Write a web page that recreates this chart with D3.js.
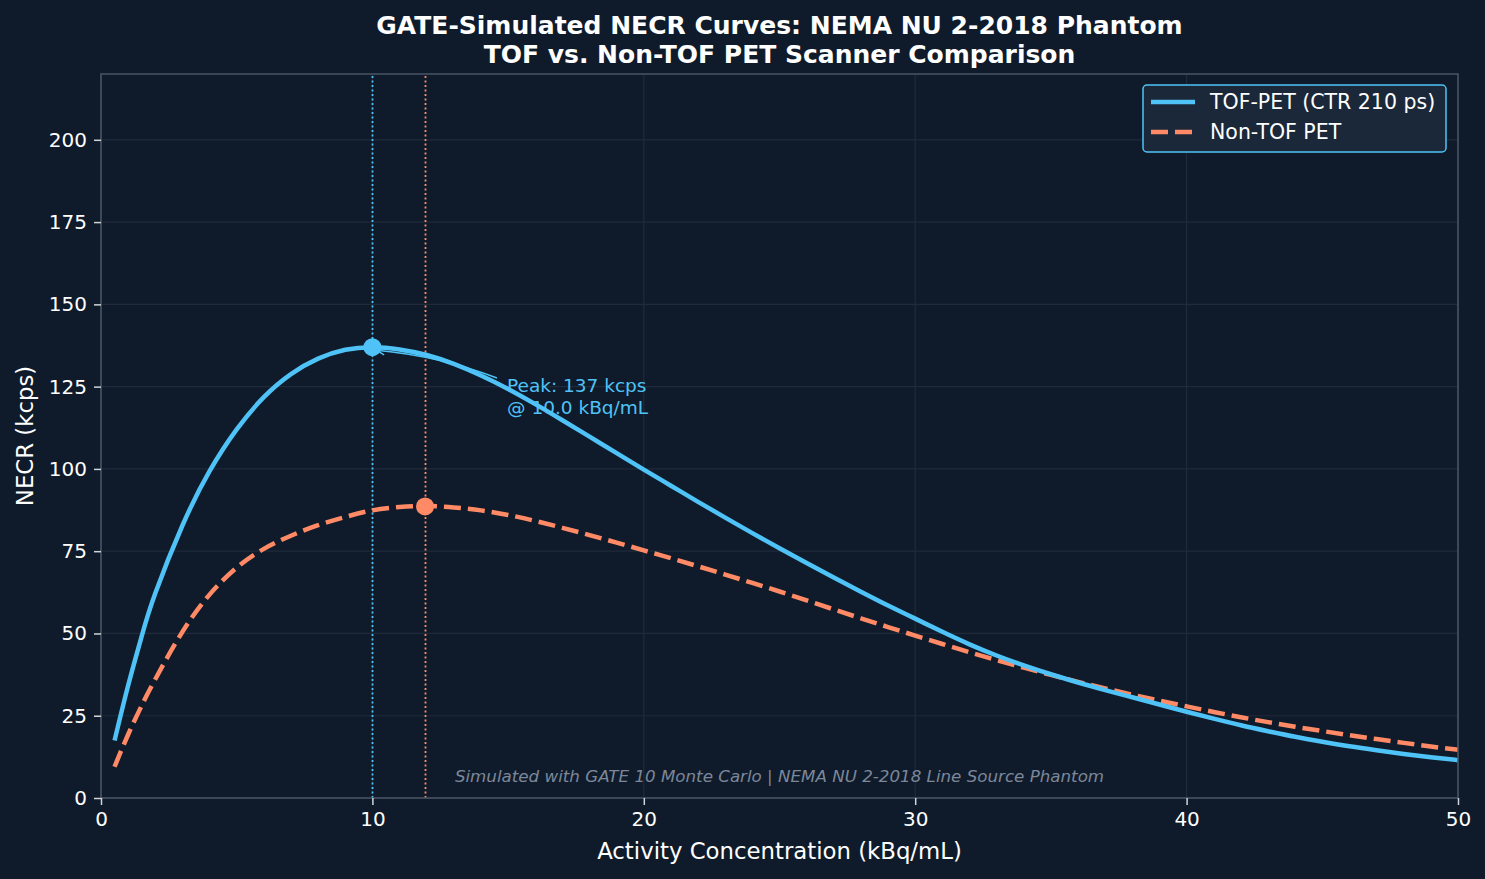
<!DOCTYPE html>
<html>
<head>
<meta charset="utf-8">
<script src="https://cdn.jsdelivr.net/npm/d3@7"></script>
<style>
  html, body { margin: 0; padding: 0; background: #0f1b2a; }
  svg { display: block; font-family: "DejaVu Sans", sans-serif; }
</style>
</head>
<body>
<div id="chart"></div>
<script>
// Activity concentration (kBq/mL) sample points
const activity = [0.5, 1, 1.5, 2, 3, 4, 5, 6, 7, 8, 9, 10, 11, 12, 13, 14, 15, 16, 17, 18, 19, 20,
  21, 22, 23, 24, 25, 26, 27, 28, 29, 30, 31, 32, 33, 34, 35, 36, 37, 38, 39, 40,
  41, 42, 43, 44, 45, 46, 47, 48, 49, 50];

// NECR (kcps)
const necrTof = [17.5, 34.2, 49.2, 62.2, 82.8, 99.3, 112, 121.8, 128.8, 133.5, 136.2, 137, 136.3,
  134.6, 131.9, 128.4, 124.3, 119.7, 114.8, 109.8, 104.8, 99.8, 94.9, 90.0, 85.2, 80.5, 75.9, 71.4,
  67.0, 62.7, 58.5, 54.5, 50.5, 46.7, 43.3, 40.3, 37.6, 35.1, 32.8, 30.6, 28.4, 26.2, 24.1, 22.1,
  20.3, 18.6, 17.1, 15.7, 14.5, 13.4, 12.4, 11.5];
const necrNonTof = [9.5, 19.3, 28.1, 36.1, 50.5, 61.8, 70.0, 75.7, 79.7, 82.9, 85.4, 87.4, 88.4,
  88.7, 88.3, 87.4, 86.0, 84.2, 82.1, 79.9, 77.6, 75.25, 72.85, 70.4, 67.9, 65.35, 62.75, 60.05,
  57.3, 54.6, 51.95, 49.35, 46.8, 44.3, 41.9, 39.6, 37.4, 35.3, 33.3, 31.4, 29.6, 27.85, 26.15,
  24.55, 23.05, 21.65, 20.35, 19.1, 17.9, 16.75, 15.65, 14.65];

const xTicks = [0, 10, 20, 30, 40, 50];
const yTicks = [0, 25, 50, 75, 100, 125, 150, 175, 200];

const peakTof = { x: 10.0, y: 137 };
const peakNonTof = { x: 11.94, y: 88.6 };

const W = 1485, H = 879;
const margin = { top: 74, right: 27, bottom: 81, left: 101 };

const colTof = '#4fc3f7';
const colNon = '#ff8a65';

const svg = d3.select('#chart').append('svg')
  .attr('width', W)
  .attr('height', H);

svg.append('rect').attr('width', W).attr('height', H).attr('fill', '#0f1b2a');

const x = d3.scaleLinear().domain([0, 50]).range([margin.left, W - margin.right]);
const y = d3.scaleLinear().domain([0, 220]).range([H - margin.bottom, margin.top]);

// Grid
const grid = svg.append('g');
grid.selectAll('.gx').data(xTicks).join('line')
  .attr('x1', d => x(d)).attr('x2', d => x(d))
  .attr('y1', y(0)).attr('y2', y(220))
  .attr('stroke', '#1f2b3b').attr('stroke-width', 1.2);
grid.selectAll('.gy').data(yTicks).join('line')
  .attr('x1', x(0)).attr('x2', x(50))
  .attr('y1', d => y(d)).attr('y2', d => y(d))
  .attr('stroke', '#1f2b3b').attr('stroke-width', 1.2);

// Peak guide lines
[[peakTof, colTof], [peakNonTof, colNon]].forEach(([p, c]) => {
  svg.append('line')
    .attr('x1', Math.round(x(p.x)) + 0.5).attr('x2', Math.round(x(p.x)) + 0.5)
    .attr('y1', y(0)).attr('y2', y(220))
    .attr('stroke', c).attr('stroke-width', 1.8)
    .attr('stroke-dasharray', '2,2.5');
});

// Curves
const line = d3.line().curve(d3.curveNatural);
const tofPts = activity.map((a, i) => [x(a), y(necrTof[i])]);
const nonPts = activity.map((a, i) => [x(a), y(necrNonTof[i])]);

svg.append('path').attr('d', line(nonPts))
  .attr('fill', 'none').attr('stroke', colNon).attr('stroke-width', 4.5)
  .attr('stroke-dasharray', '17,7');
svg.append('path').attr('d', line(tofPts))
  .attr('fill', 'none').attr('stroke', colTof).attr('stroke-width', 4.5)
  .attr('stroke-linejoin', 'round');

// Peak markers
svg.append('circle').attr('cx', x(peakTof.x)).attr('cy', y(peakTof.y)).attr('r', 9).attr('fill', colTof);
svg.append('circle').attr('cx', x(peakNonTof.x)).attr('cy', y(peakNonTof.y)).attr('r', 9).attr('fill', colNon);

// Annotation arrow + text
const tx = 507, ty = 392;
const ax0 = tx - 10, ay0 = ty - 14;
const ax1 = x(peakTof.x) + 4, ay1 = y(peakTof.y) + 3;
const cx = (ax0 + ax1) / 2 + 4, cy = (ay0 + ay1) / 2 - 8;
svg.append('path')
  .attr('d', `M${ax0},${ay0} Q${cx},${cy} ${ax1},${ay1}`)
  .attr('fill', 'none').attr('stroke', colTof).attr('stroke-width', 1.5);
const ang = Math.atan2(ay1 - cy, ax1 - cx);
svg.append('path')
  .attr('d', `M${ax1 - 9 * Math.cos(ang - 0.45)},${ay1 - 9 * Math.sin(ang - 0.45)} L${ax1},${ay1} L${ax1 - 9 * Math.cos(ang + 0.45)},${ay1 - 9 * Math.sin(ang + 0.45)}`)
  .attr('fill', 'none').attr('stroke', colTof).attr('stroke-width', 1.5);
const ann = svg.append('text').attr('fill', colTof).style('font-size', '18.5px');
ann.append('tspan').attr('x', tx).attr('y', ty).text(`Peak: ${peakTof.y} kcps`);
ann.append('tspan').attr('x', tx).attr('y', ty + 22).text(`@ ${peakTof.x.toFixed(1)} kBq/mL`);

// Footnote
svg.append('text')
  .attr('x', (x(0) + x(50)) / 2).attr('y', 782)
  .attr('text-anchor', 'middle')
  .style('font-size', '16.7px').style('font-style', 'italic')
  .attr('fill', '#7c879a')
  .text('Simulated with GATE 10 Monte Carlo | NEMA NU 2-2018 Line Source Phantom');

// Spines
svg.append('rect')
  .attr('x', x(0)).attr('y', y(220))
  .attr('width', x(50) - x(0)).attr('height', y(0) - y(220))
  .attr('fill', 'none').attr('stroke', '#4a5566').attr('stroke-width', 1.5);

// Axes
const xAxis = svg.append('g').attr('transform', `translate(0,${y(0)})`)
  .call(d3.axisBottom(x).tickValues(xTicks).tickSize(7).tickPadding(7));
const yAxis = svg.append('g').attr('transform', `translate(${x(0)},0)`)
  .call(d3.axisLeft(y).tickValues(yTicks).tickSize(7).tickPadding(7));
[xAxis, yAxis].forEach(g => {
  g.select('.domain').remove();
  g.selectAll('line').attr('stroke', '#d0d4da').attr('stroke-width', 1.5);
  g.selectAll('text').attr('fill', '#ffffff')
    .style('font-size', '20px').style('font-family', '"DejaVu Sans", sans-serif');
});

// Axis labels
svg.append('text')
  .attr('x', (x(0) + x(50)) / 2).attr('y', 859)
  .attr('text-anchor', 'middle').attr('fill', '#ffffff')
  .style('font-size', '22.8px')
  .text('Activity Concentration (kBq/mL)');
svg.append('text')
  .attr('transform', `translate(33,${(y(0) + y(220)) / 2}) rotate(-90)`)
  .attr('text-anchor', 'middle').attr('fill', '#ffffff')
  .style('font-size', '22.8px')
  .text('NECR (kcps)');

// Title
const title = svg.append('text').attr('text-anchor', 'middle').attr('fill', '#ffffff')
  .style('font-size', '25px').style('font-weight', 'bold');
title.append('tspan').attr('x', (x(0) + x(50)) / 2).attr('y', 34)
  .text('GATE-Simulated NECR Curves: NEMA NU 2-2018 Phantom');
title.append('tspan').attr('x', (x(0) + x(50)) / 2).attr('y', 63)
  .text('TOF vs. Non-TOF PET Scanner Comparison');

// Legend
const legend = svg.append('g').attr('transform', 'translate(1143,85)');
legend.append('rect')
  .attr('width', 303).attr('height', 67).attr('rx', 4)
  .attr('fill', '#1a2839').attr('stroke', colTof).attr('stroke-width', 1.5);
const items = [
  { label: 'TOF-PET (CTR 210 ps)', color: colTof, dash: null },
  { label: 'Non-TOF PET', color: colNon, dash: '17,7' }
];
items.forEach((it, i) => {
  const ly = 17 + i * 30;
  legend.append('line')
    .attr('x1', 8).attr('x2', 52).attr('y1', ly).attr('y2', ly)
    .attr('stroke', it.color).attr('stroke-width', 4.5)
    .attr('stroke-dasharray', it.dash);
  legend.append('text')
    .attr('x', 67).attr('y', ly + 7)
    .attr('fill', '#ffffff').style('font-size', '20.5px')
    .text(it.label);
});
</script>
</body>
</html>
